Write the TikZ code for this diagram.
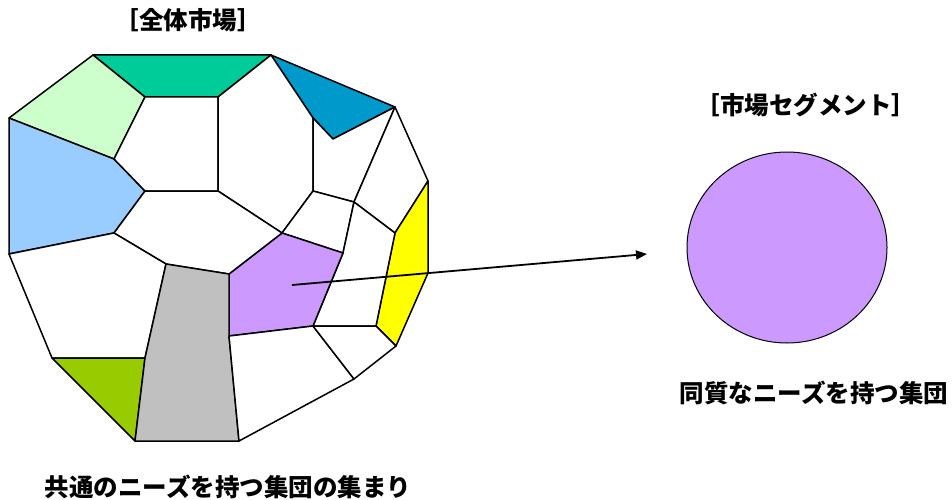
\documentclass[tikz,border=0pt]{standalone}
\usepackage{fontspec}
\newfontfamily\cjk{Noto Sans CJK JP}
\usetikzlibrary{arrows.meta,shapes.geometric}
\definecolor{cGreen}{HTML}{00CC99}
\definecolor{cLGreen}{HTML}{CCFFCC}
\definecolor{cLBlue}{HTML}{99CCFF}
\definecolor{cBlue}{HTML}{0099CC}
\definecolor{cYellow}{HTML}{FFFF00}
\definecolor{cPurple}{HTML}{CC99FF}
\definecolor{cGray}{HTML}{C0C0C0}
\definecolor{cLime}{HTML}{99CC00}
\tikzset{
  region/.style={draw=black, line width=1.5pt, line join=round},
  label/.style={font=\cjk\bfseries\fontsize{24.5}{28}\selectfont, inner sep=0pt},
}
\begin{document}
\begin{tikzpicture}[x=1pt,y=-1pt]
\useasboundingbox (0,0) rectangle (952,500);
% vertices
\coordinate (A) at (93,55);
\coordinate (B) at (271,55);
\coordinate (C) at (395,107);
\coordinate (D) at (428,181);
\coordinate (E) at (428,273);
\coordinate (F) at (396,346);
\coordinate (G) at (354,379);
\coordinate (H) at (239,441);
\coordinate (I) at (135,441);
\coordinate (J) at (52,358);
\coordinate (K) at (9,254);
\coordinate (L) at (9,118);
\coordinate (M) at (145,97);
\coordinate (N) at (218,97);
\coordinate (P) at (114,159);
\coordinate (Q) at (145,191);
\coordinate (R) at (114,233);
\coordinate (S) at (218,191);
\coordinate (T) at (282,233);
\coordinate (U) at (333,139);
\coordinate (V) at (313,118);
\coordinate (W) at (313,191);
\coordinate (X) at (354,202);
\coordinate (Y) at (395,233);
\coordinate (Z) at (343,253);
\coordinate (AA) at (313,326);
\coordinate (BB) at (229,336);
\coordinate (CC) at (229,274);
\coordinate (DD) at (376,326);
\coordinate (HH) at (166,264);
\coordinate (O) at (145,358);
% regions
\filldraw[region, fill=cGreen] (A) -- (B) -- (N) -- (M) -- cycle;
\filldraw[region, fill=cLGreen] (A) -- (M) -- (P) -- (L) -- cycle;
\filldraw[region, fill=cLBlue] (L) -- (P) -- (Q) -- (R) -- (K) -- cycle;
\filldraw[region, fill=white] (M) -- (N) -- (S) -- (Q) -- (P) -- cycle;
\filldraw[region, fill=cBlue] (B) -- (C) -- (U) -- (V) -- cycle;
\filldraw[region, fill=white] (N) -- (B) -- (V) -- (W) -- (T) -- (S) -- cycle;
\filldraw[region, fill=white] (V) -- (U) -- (C) -- (X) -- (W) -- cycle;
\filldraw[region, fill=white] (C) -- (D) -- (Y) -- (X) -- cycle;
\filldraw[region, fill=cYellow] (D) -- (E) -- (F) -- (DD) -- (Y) -- cycle;
\filldraw[region, fill=white] (W) -- (X) -- (Z) -- (T) -- cycle;
\filldraw[region, fill=white] (X) -- (Y) -- (DD) -- (AA) -- (Z) -- cycle;
\filldraw[region, fill=cPurple] (T) -- (Z) -- (AA) -- (BB) -- (CC) -- cycle;
\filldraw[region, fill=white] (Q) -- (S) -- (T) -- (CC) -- (HH) -- (R) -- cycle;
\filldraw[region, fill=white] (K) -- (R) -- (HH) -- (O) -- (J) -- cycle;
\filldraw[region, fill=cLime] (J) -- (O) -- (I) -- cycle;
\filldraw[region, fill=cGray] (HH) -- (CC) -- (BB) -- (H) -- (I) -- (O) -- cycle;
\filldraw[region, fill=white] (BB) -- (AA) -- (G) -- (H) -- cycle;
\filldraw[region, fill=white] (AA) -- (DD) -- (F) -- (G) -- cycle;
% segment
\node[ellipse, draw=black, line width=1pt, fill=cPurple, minimum width=200pt, minimum height=191pt, inner sep=0pt] (seg) at (787,247.5) {};
\coordinate (arrS) at (292,285);
\coordinate (arrE) at (647,254);
\draw[line width=1.8pt, -{Triangle[length=11pt,width=9pt]}] (arrS) -- (arrE);
% labels
\node[label] (t1) at (188,20) {［全体市場］};
\node[label] (t2) at (806,105) {［市場セグメント］};
\node[label] (t3) at (814,393) {同質なニーズを持つ集団};
\node[label] (t4) at (228,487) {共通のニーズを持つ集団の集まり};
\end{tikzpicture}
\end{document}
